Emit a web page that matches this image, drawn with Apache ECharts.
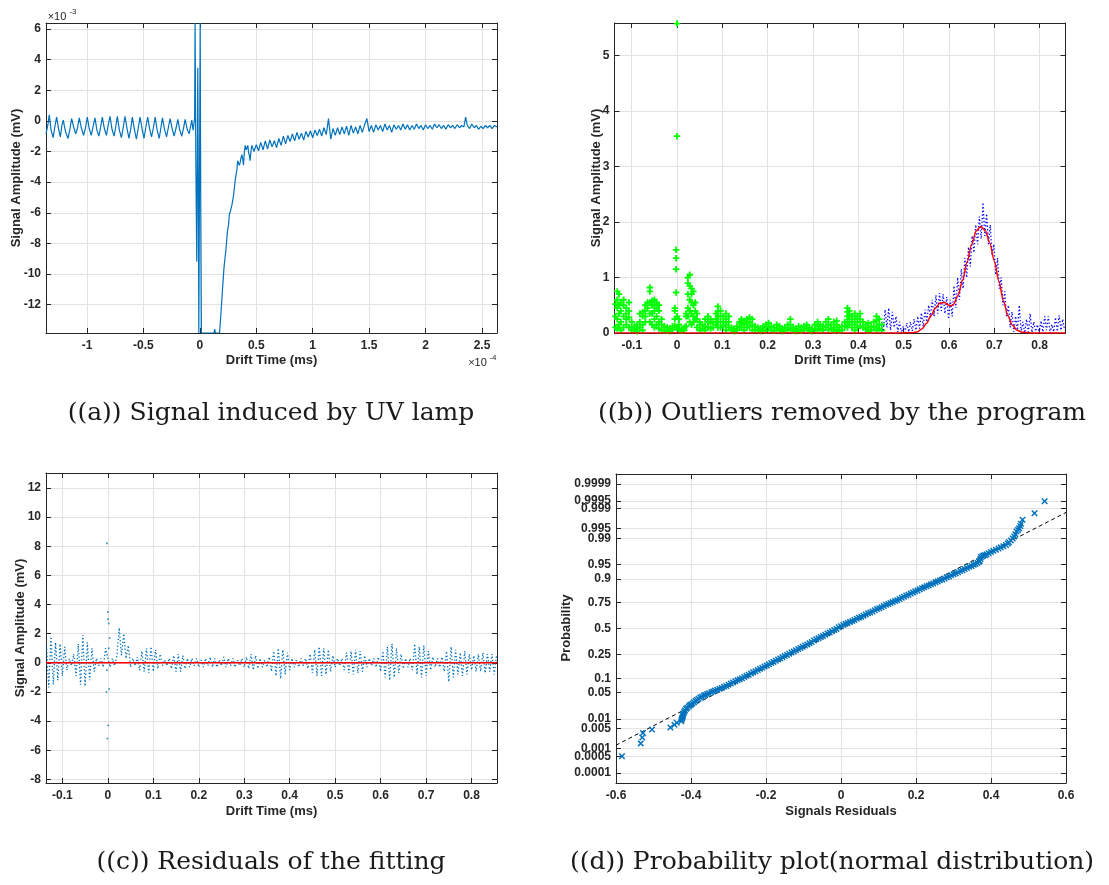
<!DOCTYPE html>
<html><head><meta charset="utf-8">
<script src="https://cdn.jsdelivr.net/npm/echarts@6.0.0/dist/echarts.min.js"></script>
<style>html,body{margin:0;padding:0;background:#fff}#c{width:1109px;height:885px}</style>
</head><body><div id="c"></div>
<script>
// ---------------- DATA ----------------
// (a) Signal induced by UV lamp : [drift time (x1e-4 ms), amplitude (x1e-3 mV)]
const signalA = [
[-1.363,-0.85],[-1.345,-0.2],[-1.334,0.40],[-1.318,-0.6],[-1.300,-1.10],[-1.285,-0.4],[-1.269,0.25],[-1.252,-0.5],[-1.236,-1.05],[-1.222,-0.3],
[-1.210,0.05],[-1.190,-0.7],[-1.168,-1.15],[-1.150,-0.5],[-1.136,0.15],[-1.118,-0.4],[-1.100,-0.85],[-1.085,-0.5],[-1.068,0.20],[-1.050,-0.45],
[-1.030,-0.95],[-1.012,-0.4],[-0.997,0.25],[-0.980,-0.5],[-0.962,-0.95],[-0.945,-0.35],[-0.929,0.20],[-0.912,-0.6],[-0.895,-1.0],[-0.880,-0.45],
[-0.864,0.25],[-0.846,-0.5],[-0.828,-0.95],[-0.812,-0.3],[-0.796,0.30],[-0.778,-0.55],[-0.760,-1.0],[-0.745,-0.4],[-0.731,0.30],[-0.713,-0.6],
[-0.695,-1.1],[-0.678,-0.4],[-0.663,0.30],[-0.645,-0.5],[-0.628,-1.15],[-0.612,-0.5],[-0.598,0.25],[-0.580,-0.55],[-0.562,-1.2],[-0.545,-0.45],
[-0.530,0.25],[-0.512,-0.5],[-0.495,-1.15],[-0.478,-0.4],[-0.462,0.25],[-0.445,-0.5],[-0.428,-1.05],[-0.410,-0.4],[-0.396,0.25],[-0.378,-0.6],
[-0.360,-1.15],[-0.345,-0.45],[-0.331,0.20],[-0.313,-0.55],[-0.295,-1.05],[-0.278,-0.4],[-0.263,0.15],[-0.245,-0.5],[-0.228,-1.0],[-0.210,-0.45],
[-0.195,0.10],[-0.178,-0.6],[-0.160,-1.0],[-0.145,-0.5],[-0.130,0.10],[-0.112,-0.55],[-0.095,-0.85],[-0.083,-0.4],[-0.071,0.05],[-0.060,-0.6],
[-0.052,-0.2],[-0.046,0.2],[-0.042,6.39],[-0.035,-3.0],[-0.027,-9.2],[-0.022,-2.0],[-0.018,3.46],[-0.013,-5.0],[-0.009,-13.85],[-0.003,-4.0],
[0.003,6.39],[0.008,-5.0],[0.014,-13.85],[0.05,-13.85],[0.10,-13.85],[0.125,-13.85],[0.132,-13.6],[0.138,-13.85],[0.175,-13.85],[0.185,-12.8],
[0.200,-11.1],[0.215,-9.5],[0.230,-8.5],[0.245,-7.2],[0.254,-6.8],[0.262,-6.1],[0.269,-5.95],[0.284,-5.5],[0.298,-4.9],[0.313,-3.9],
[0.328,-3.2],[0.335,-2.6],[0.343,-2.5],[0.350,-2.9],[0.358,-2.7],[0.365,-2.4],[0.373,-2.2],[0.380,-2.5],[0.387,-2.9],[0.395,-2.0],
[0.402,-1.6],[0.410,-1.9],[0.417,-1.85],[0.425,-1.6],[0.432,-2.05],[0.440,-2.3],[0.446,-2.6],[0.454,-1.9],[0.461,-1.6],[0.48,-2.0],
[0.50,-1.55],[0.52,-1.95],[0.54,-1.4],[0.56,-1.9],[0.58,-1.3],[0.60,-1.85],[0.62,-1.25],[0.64,-1.7],[0.66,-1.3],[0.68,-1.75],
[0.70,-1.15],[0.72,-1.6],[0.74,-1.0],[0.76,-1.5],[0.78,-0.95],[0.80,-1.35],[0.82,-0.85],[0.84,-1.3],[0.86,-0.75],[0.88,-1.2],
[0.90,-0.8],[0.92,-1.25],[0.94,-0.7],[0.96,-1.05],[0.98,-0.65],[1.00,-1.1],[1.02,-0.6],[1.04,-0.95],[1.06,-0.55],[1.08,-1.0],
[1.10,-0.45],[1.12,-0.9],[1.14,0.15],[1.16,-1.2],[1.18,-0.5],[1.20,-0.95],[1.22,-0.45],[1.24,-0.9],[1.26,-0.4],[1.28,-0.85],
[1.30,-0.35],[1.32,-0.95],[1.34,-0.3],[1.36,-0.8],[1.38,-0.4],[1.40,-0.85],[1.42,-0.3],[1.44,-0.75],[1.46,-0.25],[1.48,0.15],
[1.50,-0.7],[1.52,-0.3],[1.54,-0.75],[1.56,-0.25],[1.58,-0.6],[1.60,-0.3],[1.62,-0.7],[1.64,-0.2],[1.66,-0.6],[1.68,-0.3],
[1.70,-0.75],[1.72,-0.25],[1.74,-0.55],[1.76,-0.3],[1.78,-0.6],[1.80,-0.2],[1.82,-0.55],[1.84,-0.25],[1.86,-0.6],[1.88,-0.3],
[1.90,-0.55],[1.92,-0.2],[1.94,-0.5],[1.96,-0.3],[1.98,-0.6],[2.00,-0.25],[2.02,-0.5],[2.04,-0.3],[2.06,-0.55],[2.08,-0.2],
[2.10,-0.45],[2.12,-0.25],[2.14,-0.5],[2.16,-0.3],[2.18,-0.55],[2.20,-0.25],[2.22,-0.45],[2.24,-0.3],[2.26,-0.5],[2.28,-0.25],
[2.30,-0.45],[2.32,-0.3],[2.34,-0.4],[2.355,0.25],[2.37,-0.3],[2.39,-0.5],[2.41,-0.2],[2.43,-0.45],[2.45,-0.3],[2.47,-0.55],
[2.49,-0.35],[2.51,-0.5],[2.53,-0.3],[2.55,-0.45],[2.57,-0.3],[2.59,-0.5],[2.61,-0.3],[2.633,-0.4]
];
const aXTicks = [-1,-0.5,0,0.5,1,1.5,2,2.5];
const aYTicks = [-12,-10,-8,-6,-4,-2,0,2,4,6];

// (b) Outliers (green): rows of [drift time (ms), amplitudes (mV)...]
const outlierColumns = [
[-0.136,0.52,0.3,0.1],[-0.132,0.75,0.6,0.45,0.25,0.08],[-0.128,0.7,0.5,0.35,0.15],[-0.124,0.55,0.4,0.2,0.05],[-0.118,0.6,0.5,0.3,0.1],
[-0.112,0.45,0.35,0.25,0.15],[-0.106,0.55,0.4,0.28,0.1],[-0.100,0.2,0.1,0.05],[-0.094,0.12,0.06],[-0.088,0.15,0.08,0.03],
[-0.082,0.35,0.2,0.1],[-0.076,0.38,0.3,0.15,0.05],[-0.070,0.5,0.4,0.3,0.2],[-0.065,0.55,0.45],[-0.060,0.82,0.75,0.55,0.35,0.2],
[-0.055,0.58,0.5,0.35,0.15],[-0.050,0.6,0.5,0.4,0.25,0.1],[-0.045,0.55,0.45,0.3,0.15],[-0.040,0.5,0.4,0.2,0.08],[-0.034,0.25,0.15,0.05],
[-0.028,0.12,0.05],[-0.022,0.1,0.04],[-0.016,0.08,0.03],[-0.010,0.12,0.06],[-0.005,0.45,0.4,0.25,0.12],
[-0.002,0.73,1.15,1.35,1.5],[0.000,3.55,5.58,0.3,0.1],[0.004,0.25,0.15,0.05],[0.010,0.08,0.04],[0.016,0.1,0.05],
[0.020,0.35,0.3,0.12],[0.024,1.0,0.9,0.7,0.45,0.3],[0.028,1.05,0.85,0.6,0.4,0.2],[0.032,0.8,0.7,0.55,0.35,0.15],[0.036,0.75,0.5,0.3,0.2],
[0.040,0.55,0.4,0.25],[0.044,0.35,0.25,0.1],[0.050,0.2,0.15,0.05],[0.056,0.15,0.08],[0.062,0.25,0.12,0.05],
[0.068,0.3,0.2,0.1],[0.074,0.25,0.18,0.08],[0.080,0.2,0.1],[0.086,0.35,0.25,0.15],[0.090,0.48,0.4,0.3,0.2,0.1],
[0.096,0.4,0.3,0.2,0.1],[0.102,0.3,0.2,0.12],[0.108,0.35,0.25,0.15,0.05],[0.114,0.3,0.2,0.1],[0.120,0.1,0.05],
[0.126,0.08,0.03],[0.132,0.12,0.05],[0.138,0.2,0.1],[0.142,0.25,0.18,0.1],[0.148,0.22,0.15,0.05],
[0.154,0.25,0.18,0.1],[0.160,0.28,0.2,0.12],[0.166,0.25,0.15,0.05],[0.172,0.12,0.06],[0.178,0.1,0.05],
[0.184,0.08,0.03],[0.190,0.12,0.06],[0.196,0.15,0.1,0.04],[0.202,0.18,0.1],[0.208,0.12,0.05],
[0.214,0.1,0.04],[0.220,0.15,0.08],[0.226,0.12,0.05],[0.232,0.08,0.03],[0.238,0.1,0.05],
[0.244,0.15,0.06],[0.250,0.25,0.15,0.08],[0.256,0.1,0.04],[0.262,0.08,0.03],[0.268,0.12,0.05],
[0.274,0.1,0.04],[0.280,0.12,0.06],[0.286,0.15,0.08],[0.292,0.1,0.04],[0.298,0.08,0.03],
[0.304,0.15,0.07],[0.310,0.2,0.12,0.05],[0.316,0.15,0.08],[0.322,0.12,0.05],[0.328,0.2,0.1],
[0.334,0.25,0.15,0.06],[0.340,0.15,0.08],[0.346,0.2,0.1,0.04],[0.352,0.22,0.15,0.06],[0.358,0.1,0.04],
[0.364,0.12,0.05],[0.370,0.2,0.12],[0.376,0.45,0.38,0.3,0.2,0.1],[0.380,0.4,0.33,0.25,0.15],[0.386,0.3,0.2,0.1],
[0.392,0.35,0.25,0.15,0.05],[0.398,0.3,0.2,0.1],[0.404,0.35,0.25,0.12],[0.410,0.2,0.1],[0.416,0.15,0.07],
[0.422,0.18,0.1,0.04],[0.428,0.12,0.05],[0.434,0.2,0.1],[0.440,0.3,0.22,0.12,0.05],[0.446,0.25,0.15,0.08],[0.452,0.15,0.05]
];
// (b) retained signal (blue, dotted)
const keptSignal = [
[0.455,0.05],[0.459,0.42],[0.463,0.1],[0.467,0.45],[0.471,0.05],[0.475,0.38],[0.479,0.1],[0.483,0.3],[0.487,0.02],[0.491,0.2],
[0.495,0.0],[0.499,0.12],[0.503,0.01],[0.507,0.18],[0.511,0.02],[0.515,0.2],[0.519,0.04],[0.523,0.25],[0.527,0.05],[0.531,0.3],
[0.535,0.08],[0.539,0.36],[0.543,0.12],[0.547,0.42],[0.551,0.2],[0.555,0.5],[0.559,0.28],[0.563,0.6],[0.567,0.3],[0.571,0.68],
[0.575,0.35],[0.579,0.72],[0.583,0.4],[0.587,0.7],[0.591,0.35],[0.595,0.65],[0.599,0.25],[0.603,0.6],[0.607,0.3],[0.611,0.85],
[0.615,0.45],[0.619,1.0],[0.623,0.6],[0.627,1.15],[0.631,0.8],[0.635,1.35],[0.639,1.0],[0.643,1.55],[0.647,1.2],[0.651,1.75],
[0.655,1.45],[0.659,1.95],[0.663,1.6],[0.667,2.1],[0.671,1.7],[0.675,2.35],[0.679,1.75],[0.683,2.15],[0.687,1.6],[0.691,1.95],
[0.695,1.4],[0.699,1.6],[0.703,1.05],[0.707,1.35],[0.711,0.8],[0.715,1.0],[0.719,0.5],[0.723,0.75],[0.727,0.3],[0.731,0.5],
[0.735,0.1],[0.739,0.38],[0.743,0.02],[0.747,0.3],[0.751,0.05],[0.755,0.5],[0.759,0.02],[0.763,0.2],[0.767,0.0],[0.771,0.25],
[0.775,0.02],[0.779,0.35],[0.783,0.01],[0.787,0.2],[0.791,0.03],[0.795,0.15],[0.799,0.0],[0.803,0.22],[0.807,0.02],[0.811,0.3],
[0.815,0.05],[0.819,0.3],[0.823,0.0],[0.827,0.15],[0.831,0.02],[0.835,0.28],[0.839,0.03],[0.843,0.32],[0.847,0.05],[0.851,0.25],[0.855,0.05]
];
// (b) fitted curve (red)
const fitCurve = [
[-0.138,0],[0.50,0],[0.52,0.005],[0.53,0.02],[0.54,0.07],[0.55,0.17],[0.56,0.31],[0.57,0.45],[0.58,0.54],[0.59,0.55],
[0.60,0.50],[0.605,0.49],[0.61,0.52],[0.62,0.68],[0.63,0.95],[0.64,1.28],[0.65,1.6],[0.66,1.84],[0.67,1.92],[0.68,1.85],
[0.69,1.62],[0.70,1.30],[0.71,0.93],[0.72,0.58],[0.73,0.31],[0.74,0.14],[0.75,0.05],[0.76,0.015],[0.78,0],[0.857,0]
];
const bXTicks = [-0.1,0,0.1,0.2,0.3,0.4,0.5,0.6,0.7,0.8];
const bYTicks = [0,1,2,3,4,5];

// (c) residuals of the fitting
const residuals = [
[-0.135,1.2],[-0.130,-1.7],[-0.125,1.8],[-0.120,-1.5],[-0.115,1.4],[-0.110,-1.2],[-0.105,1.3],[-0.100,-0.9],[-0.095,1.1],[-0.090,-0.5],
[-0.085,0.3],[-0.080,-0.2],[-0.075,0.6],[-0.070,-0.9],[-0.065,1.3],[-0.060,-1.5],[-0.055,1.9],[-0.050,-1.6],[-0.045,1.4],[-0.040,-1.2],
[-0.035,1.0],[-0.030,-0.6],[-0.025,0.3],[-0.020,-0.2],[-0.015,0.3],[-0.010,-0.3],[-0.005,1.0],[0.005,-0.3],[0.010,0.3],[0.015,-0.2],
[0.020,0.5],[0.025,2.4],[0.030,0.5],[0.035,2.0],[0.040,0.3],[0.045,1.2],[0.050,-0.3],[0.055,0.3],[0.060,-0.2],[0.065,0.4],
[0.070,-0.5],[0.075,0.8],[0.080,-0.6],[0.085,1.0],[0.090,-0.7],[0.095,1.1],[0.100,-0.6],[0.105,0.9],[0.110,-0.4],[0.115,0.6],
[0.120,-0.2],[0.125,0.2],[0.130,-0.2],[0.135,0.3],[0.140,-0.4],[0.145,0.5],[0.150,-0.6],[0.155,0.6],[0.160,-0.6],[0.165,0.5],
[0.170,-0.4],[0.175,0.3],[0.180,-0.3],[0.185,0.3],[0.190,-0.2],[0.195,0.3],[0.200,-0.3],[0.205,0.2],[0.210,-0.3],[0.215,0.3],
[0.220,-0.2],[0.225,0.4],[0.230,-0.3],[0.235,0.3],[0.240,-0.3],[0.245,0.2],[0.250,-0.2],[0.255,0.4],[0.260,-0.3],[0.265,0.3],
[0.270,-0.2],[0.275,0.3],[0.280,-0.3],[0.285,0.2],[0.290,-0.2],[0.295,0.3],[0.300,-0.3],[0.305,0.4],[0.310,-0.4],[0.315,0.6],
[0.320,-0.5],[0.325,0.5],[0.330,-0.4],[0.335,0.3],[0.340,-0.3],[0.345,0.2],[0.350,-0.3],[0.355,0.4],[0.360,-0.6],[0.365,0.8],
[0.370,-0.9],[0.375,1.0],[0.380,-1.1],[0.385,0.9],[0.390,-0.8],[0.395,0.7],[0.400,-0.5],[0.405,0.3],[0.410,-0.3],[0.415,0.2],
[0.420,-0.3],[0.425,0.3],[0.430,-0.2],[0.435,0.3],[0.440,-0.4],[0.445,0.6],[0.450,-0.7],[0.455,0.9],[0.460,-0.9],[0.465,1.1],
[0.470,-0.9],[0.475,1.0],[0.480,-0.8],[0.485,0.9],[0.490,-0.6],[0.495,0.5],[0.500,-0.3],[0.505,0.3],[0.510,-0.2],[0.515,0.3],
[0.520,-0.5],[0.525,0.7],[0.530,-0.7],[0.535,0.8],[0.540,-0.8],[0.545,0.9],[0.550,-0.7],[0.555,0.8],[0.560,-0.6],[0.565,0.5],
[0.570,-0.3],[0.575,0.3],[0.580,-0.2],[0.585,0.3],[0.590,-0.3],[0.595,0.4],[0.600,-0.6],[0.605,0.8],[0.610,-1.0],[0.615,1.1],
[0.620,-1.2],[0.625,1.3],[0.630,-1.0],[0.635,1.0],[0.640,-0.7],[0.645,0.6],[0.650,-0.4],[0.655,0.3],[0.660,-0.3],[0.665,0.3],
[0.670,-0.5],[0.675,1.3],[0.680,-0.8],[0.685,1.1],[0.690,-1.0],[0.695,1.2],[0.700,-0.9],[0.705,0.8],[0.710,-0.5],[0.715,0.4],
[0.720,-0.3],[0.725,0.3],[0.730,-0.3],[0.735,0.4],[0.740,-0.6],[0.745,0.8],[0.750,-1.3],[0.755,1.1],[0.760,-1.0],[0.765,0.9],
[0.770,-0.8],[0.775,0.7],[0.780,-0.9],[0.785,0.8],[0.790,-0.8],[0.795,0.6],[0.800,-0.5],[0.805,0.5],[0.810,-0.6],[0.815,0.6],
[0.820,-0.6],[0.825,0.7],[0.830,-0.7],[0.835,0.6],[0.840,-0.6],[0.845,0.6],[0.850,-0.8],[0.855,0.5]
];
const residualSpike = [[-0.003,-2.0],[-0.002,8.2],[-0.001,-5.2],[0.0,3.5],[0.0005,3.0],[0.001,-4.3],[0.002,2.7],[0.003,-1.8],[0.004,1.7],[0.002,1.0],[-0.002,-0.5]];
const zeroLine = [[-0.136,0],[0.856,0]];
const cXTicks = [-0.1,0,0.1,0.2,0.3,0.4,0.5,0.6,0.7,0.8];
const cYTicks = [-8,-6,-4,-2,0,2,4,6,8,10,12];

// (d) normal probability plot: [residual, normal quantile]
const probPoints = [
[-0.584,-3.29],[-0.534,-2.96],[-0.530,-2.81],[-0.528,-2.69],[-0.504,-2.60],[-0.455,-2.55],[-0.444,-2.48],[-0.438,-2.43],
[-0.426,-2.39],[-0.425,-2.35],[-0.424,-2.32],[-0.423,-2.29],[-0.422,-2.26],[-0.421,-2.22],[-0.420,-2.19],[-0.418,-2.15],[-0.416,-2.11],[-0.413,-2.07],[-0.410,-2.04],[-0.406,-2.01],
[-0.403,-1.98],[-0.400,-1.96],[-0.396,-1.93],[-0.392,-1.90],[-0.388,-1.87],[-0.384,-1.84],[-0.380,-1.81],[-0.375,-1.78],[-0.371,-1.76],[-0.366,-1.73],
[-0.362,-1.71],[-0.357,-1.69],[-0.352,-1.67],[-0.346,-1.64],[-0.341,-1.62],[-0.336,-1.60],[-0.330,-1.58],[-0.324,-1.55],[-0.318,-1.53],[-0.312,-1.50],
[-0.306,-1.48],[-0.300,-1.45],[-0.294,-1.42],[-0.288,-1.39],[-0.282,-1.36],[-0.276,-1.33],[-0.270,-1.31],[-0.264,-1.28],[-0.258,-1.25],[-0.252,-1.22],
[-0.246,-1.19],[-0.240,-1.16],[-0.234,-1.13],[-0.228,-1.10],[-0.222,-1.07],[-0.216,-1.04],[-0.210,-1.01],[-0.204,-0.98],[-0.198,-0.95],[-0.192,-0.92],
[-0.186,-0.89],[-0.180,-0.86],[-0.174,-0.83],[-0.168,-0.80],[-0.162,-0.77],[-0.156,-0.74],[-0.150,-0.71],[-0.144,-0.68],[-0.138,-0.65],[-0.132,-0.62],
[-0.126,-0.59],[-0.120,-0.56],[-0.114,-0.53],[-0.108,-0.50],[-0.102,-0.47],[-0.096,-0.44],[-0.090,-0.41],[-0.084,-0.38],[-0.078,-0.35],[-0.072,-0.31],
[-0.066,-0.28],[-0.060,-0.25],[-0.054,-0.22],[-0.048,-0.19],[-0.042,-0.16],[-0.036,-0.13],[-0.030,-0.10],[-0.024,-0.07],[-0.018,-0.04],[-0.012,-0.01],
[-0.006,0.03],[0.000,0.06],[0.006,0.09],[0.012,0.12],[0.018,0.14],[0.024,0.17],[0.030,0.19],[0.036,0.22],[0.042,0.25],[0.048,0.28],
[0.054,0.30],[0.060,0.33],[0.066,0.36],[0.072,0.39],[0.078,0.41],[0.084,0.44],[0.090,0.47],[0.096,0.50],[0.102,0.52],[0.108,0.55],
[0.114,0.58],[0.120,0.61],[0.126,0.63],[0.132,0.66],[0.138,0.68],[0.144,0.71],[0.150,0.73],[0.156,0.76],[0.162,0.79],[0.168,0.82],
[0.174,0.85],[0.180,0.87],[0.186,0.90],[0.192,0.93],[0.198,0.96],[0.204,0.98],[0.210,1.01],[0.216,1.04],[0.222,1.06],[0.228,1.09],
[0.234,1.11],[0.240,1.14],[0.246,1.16],[0.252,1.19],[0.258,1.21],[0.264,1.24],[0.270,1.26],[0.276,1.29],[0.282,1.32],[0.288,1.34],
[0.294,1.37],[0.300,1.40],[0.306,1.42],[0.312,1.45],[0.318,1.48],[0.324,1.50],[0.330,1.53],[0.336,1.56],[0.342,1.59],[0.348,1.61],
[0.354,1.64],[0.359,1.66],[0.364,1.69],[0.368,1.72],[0.370,1.74],[0.372,1.79],[0.373,1.84],[0.377,1.86],[0.380,1.88],[0.384,1.89],
[0.388,1.91],[0.394,1.94],[0.400,1.97],[0.406,2.00],[0.413,2.03],[0.420,2.06],[0.426,2.09],[0.433,2.12],[0.440,2.15],[0.445,2.19],
[0.448,2.22],[0.453,2.27],[0.458,2.32],[0.462,2.37],[0.465,2.43],[0.468,2.50],[0.472,2.54],[0.475,2.58],[0.478,2.64],[0.480,2.70],[0.484,2.80],
[0.516,2.97],[0.543,3.28]
];
const refLine = [[-0.6,-3.006],[0.6,2.99]];
const dXTicks = [-0.6,-0.4,-0.2,0,0.2,0.4,0.6];
const probTickLabels = ['0.0001','0.0005','0.001','0.005','0.01','0.05','0.1','0.25','0.5','0.75','0.9','0.95','0.99','0.995','0.999','0.9995','0.9999'];

const captions = ['((a)) Signal induced by UV lamp','((b)) Outliers removed by the program','((c)) Residuals of the fitting','((d)) Probability plot(normal distribution)'];

// ---------------- helpers ----------------
function probit(p){
 const a=[-3.969683028665376e+01,2.209460984245205e+02,-2.759285104469687e+02,1.383577518672690e+02,-3.066479806614716e+01,2.506628277459239e+00];
 const b=[-5.447609879822406e+01,1.615858368580409e+02,-1.556989798598866e+02,6.680131188771972e+01,-1.328068155288572e+01];
 const c=[-7.784894002430293e-03,-3.223964580411365e-01,-2.400758277161838e+00,-2.549732539343734e+00,4.374664141464968e+00,2.938163982698783e+00];
 const d=[7.784695709041462e-03,3.224671290700398e-01,2.445134137142996e+00,3.754408661907416e+00];
 const pl=0.02425, ph=1-pl; let q,r;
 if(p<pl){q=Math.sqrt(-2*Math.log(p));return (((((c[0]*q+c[1])*q+c[2])*q+c[3])*q+c[4])*q+c[5])/((((d[0]*q+d[1])*q+d[2])*q+d[3])*q+1);}
 if(p<=ph){q=p-0.5;r=q*q;return (((((a[0]*r+a[1])*r+a[2])*r+a[3])*r+a[4])*r+a[5])*q/(((((b[0]*r+b[1])*r+b[2])*r+b[3])*r+b[4])*r+1);}
 q=Math.sqrt(-2*Math.log(1-p));return -(((((c[0]*q+c[1])*q+c[2])*q+c[3])*q+c[4])*q+c[5])/((((d[0]*q+d[1])*q+d[2])*q+d[3])*q+1);
}
const probTickZ = probTickLabels.map(s => probit(parseFloat(s)));

const FONT = "'Liberation Sans', Arial, Helvetica, sans-serif";
const SERIF = "'DejaVu Serif', 'Liberation Serif', serif";
const AX = '#262626';
const GRIDC = '#e2e2e2';
const numFmt = v => String(+(+v).toFixed(4));

const grids = [
 {left:46, top:23, width:451, height:310},
 {left:614.5, top:23, width:451, height:310},
 {left:46, top:473, width:451, height:310},
 {left:616, top:474, width:450, height:309}
];
const xAxes = [], yAxes = [];
function addAxes(gi, xr, yr, xt, yt, xf, yf){
 const line = {show:true, onZero:false, lineStyle:{color:AX, width:1}};
 const lbl = (vals, f, m) => ({show:true, customValues:vals, formatter:f, margin:m, color:AX, fontFamily:FONT, fontWeight:'bold', fontSize:12});
 const tick = vals => ({show:true, inside:true, length:5, customValues:vals, lineStyle:{color:AX, width:1}});
 xAxes.push({gridIndex:gi, type:'value', position:'bottom', min:xr[0], max:xr[1], axisLine:line, axisTick:tick(xt), axisLabel:lbl(xt, xf, 7), splitLine:{show:true, lineStyle:{color:GRIDC, width:1}}});
 xAxes.push({gridIndex:gi, type:'value', position:'top', min:xr[0], max:xr[1], axisLine:line, axisTick:tick(xt), axisLabel:{show:false}, splitLine:{show:false}});
 yAxes.push({gridIndex:gi, type:'value', position:'left', min:yr[0], max:yr[1], axisLine:line, axisTick:tick(yt), axisLabel:lbl(yt, yf, 5), splitLine:{show:true, lineStyle:{color:GRIDC, width:1}}});
 yAxes.push({gridIndex:gi, type:'value', position:'right', min:yr[0], max:yr[1], axisLine:line, axisTick:tick(yt), axisLabel:{show:false}, splitLine:{show:false}});
}
addAxes(0, [-1.363, 2.633], [-13.85, 6.39], aXTicks, aYTicks, numFmt, numFmt);
addAxes(1, [-0.138, 0.857], [0, 5.59], bXTicks, bYTicks, numFmt, numFmt);
addAxes(2, [-0.136, 0.856], [-8.25, 13.03], cXTicks, cYTicks, numFmt, numFmt);
addAxes(3, [-0.6, 0.6], [-3.98, 3.98], dXTicks, probTickZ, numFmt, v => {
  let best = 0; probTickZ.forEach((z,i)=>{ if (Math.abs(z-v) < Math.abs(probTickZ[best]-v)) best = i; });
  return probTickLabels[best];
});

const outlierPoints = [];
outlierColumns.forEach(row => { for (let i = 1; i < row.length; i++) outlierPoints.push([row[0], row[i]]); });

const PLUS = 'path://M3.6,0H6.4V3.6H10V6.4H6.4V10H3.6V6.4H0V3.6H3.6Z';
const CROSS = 'path://M0,1.6L1.6,0L5,3.4L8.4,0L10,1.6L6.6,5L10,8.4L8.4,10L5,6.6L1.6,10L0,8.4L3.4,5Z';
const ax = gi => ({xAxisIndex: 2*gi, yAxisIndex: 2*gi});

const series = [
 Object.assign({type:'line', data:signalA, showSymbol:false, lineStyle:{color:'#0072BD', width:1.2}, itemStyle:{color:'#0072BD'}}, ax(0)),
 Object.assign({type:'scatter', data:outlierPoints, symbol:PLUS, symbolSize:6.5, itemStyle:{color:'#00FF00', opacity:1}}, ax(1)),
 Object.assign({type:'line', data:keptSignal, showSymbol:false, lineStyle:{color:'#0000FF', width:1.3, type:[1.3,2.2]}}, ax(1)),
 Object.assign({type:'line', data:fitCurve, showSymbol:false, smooth:0.3, smoothMonotone:'x', lineStyle:{color:'#FF0000', width:1.5}, z:5}, ax(1)),
 Object.assign({type:'line', data:residuals, showSymbol:false, lineStyle:{color:'#0072BD', width:1.3, type:[1.3,2.2]}}, ax(2)),
 Object.assign({type:'scatter', data:residualSpike, symbol:'rect', symbolSize:[1.6,1.6], itemStyle:{color:'#0072BD'}}, ax(2)),
 Object.assign({type:'line', data:zeroLine, showSymbol:false, lineStyle:{color:'#FF0000', width:1.5}, z:5}, ax(2)),
 Object.assign({type:'line', data:refLine, showSymbol:false, lineStyle:{color:'#000000', width:1, type:[4,3]}}, ax(3)),
 Object.assign({type:'scatter', data:probPoints, symbol:CROSS, symbolSize:6.5, itemStyle:{color:'#0072BD', opacity:1}, z:4}, ax(3))
];

function txt(x, y, text, opt){
 const o = Object.assign({size:13, weight:'bold', rot:0, family:FONT, color:AX}, opt||{});
 return {type:'text', x:x, y:y, rotation:o.rot, silent:true, z:100,
   style:{text:text, fill:o.color, font:o.weight+' '+o.size+'px '+o.family, align:'center', verticalAlign:'middle', textAlign:'center', textVerticalAlign:'middle'}};
}
const graphics = [
 txt(16, 178, 'Signal Amplitude (mV)', {rot:Math.PI/2}),
 txt(271.5, 360, 'Drift Time (ms)'),
 txt(596, 178, 'Signal Amplitude (mV)', {rot:Math.PI/2}),
 txt(840, 360, 'Drift Time (ms)'),
 txt(20, 628, 'Signal Amplitude (mV)', {rot:Math.PI/2}),
 txt(271.5, 811.5, 'Drift Time (ms)'),
 txt(566, 628, 'Probability', {rot:Math.PI/2}),
 txt(841, 811.5, 'Signals Residuals'),
 txt(57, 17, '×10', {size:11, weight:'normal'}),
 txt(73, 12, '-3', {size:8, weight:'normal'}),
 txt(477.5, 363, '×10', {size:11, weight:'normal'}),
 txt(493, 358, '-4', {size:8, weight:'normal'}),
 txt(271, 413, captions[0], {size:25, weight:'normal', family:SERIF, color:'#1a1a1a'}),
 txt(842, 413, captions[1], {size:25, weight:'normal', family:SERIF, color:'#1a1a1a'}),
 txt(271, 862, captions[2], {size:25, weight:'normal', family:SERIF, color:'#1a1a1a'}),
 txt(832, 862, captions[3], {size:25, weight:'normal', family:SERIF, color:'#1a1a1a'})
];

const chart = echarts.init(document.getElementById('c'), null, {renderer:'canvas'});
chart.setOption({
 animation:false,
 backgroundColor:'#ffffff',
 grid: grids.map(g => Object.assign({containLabel:false, show:false}, g)),
 xAxis: xAxes, yAxis: yAxes, series: series, graphic: graphics
});
</script></body></html>
